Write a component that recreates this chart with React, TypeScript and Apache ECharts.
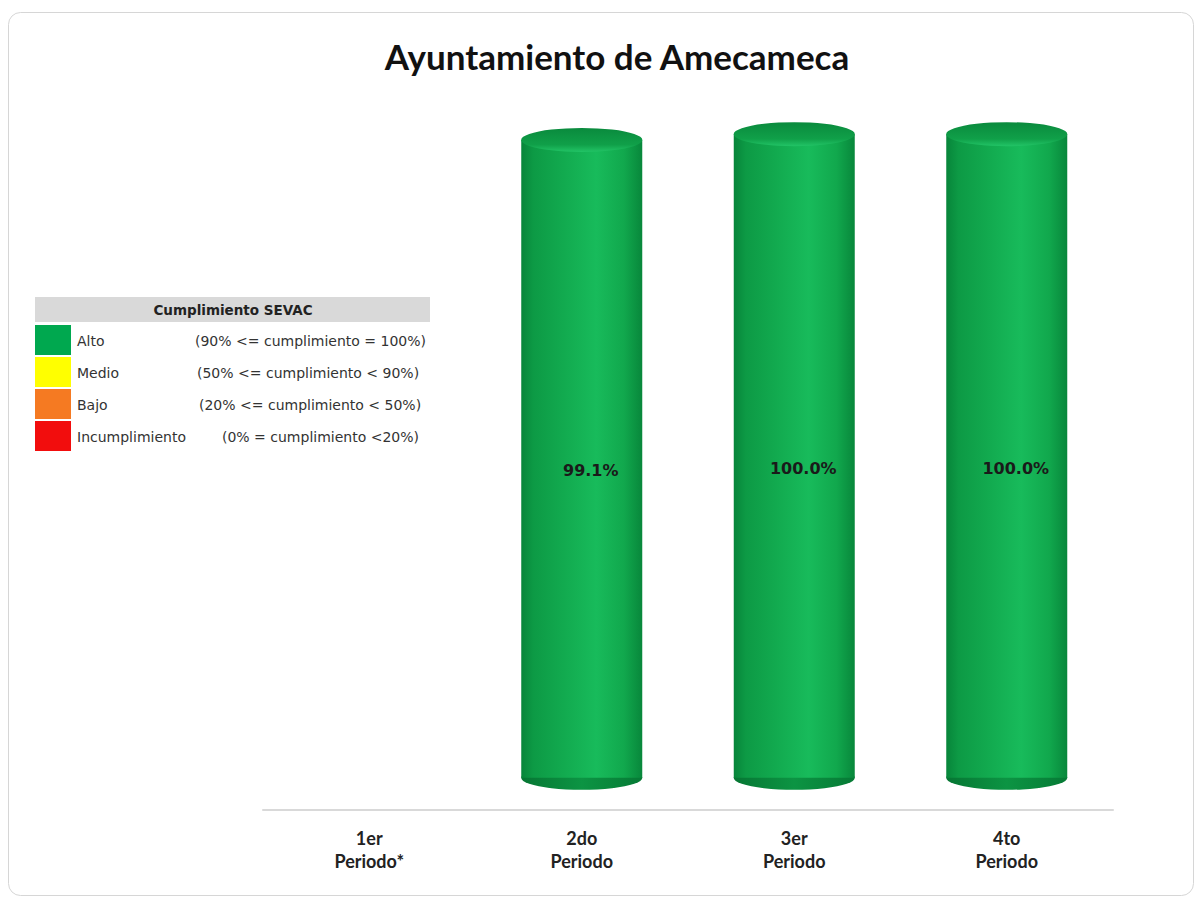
import React, { useEffect, useRef } from "react";
import * as echarts from "echarts";

const TITLE = "Ayuntamiento de Amecameca";
const categories = ["1er\nPeriodo*", "2do\nPeriodo", "3er\nPeriodo", "4to\nPeriodo"];
const values: (number | null)[] = [null, 99.1, 100.0, 100.0];

const legendTitle = "Cumplimiento SEVAC";
const legendNames = ["Alto", "Medio", "Bajo", "Incumplimiento"];
const legendRanges = [
  "(90% <= cumplimiento = 100%)",
  "(50% <= cumplimiento < 90%)",
  "(20% <= cumplimiento < 50%)",
  "(0% = cumplimiento <20%)",
];
const legendColors = ["#00a84f", "#ffff00", "#f57a22", "#f20d0d"];
const legendRangeX = [195, 197, 199, 222];

const BAR_W = 121;

export default function App() {
  const ref = useRef<HTMLDivElement>(null);
  useEffect(() => {
    if (!ref.current) return;
    const chart = echarts.init(ref.current, null, { renderer: "svg" });

    const bodyGrad = new echarts.graphic.LinearGradient(0, 0, 1, 0, [
      { offset: 0, color: "#07853a" },
      { offset: 0.1, color: "#0d9a45" },
      { offset: 0.35, color: "#12aa4f" },
      { offset: 0.62, color: "#18bb5b" },
      { offset: 0.85, color: "#11a84d" },
      { offset: 1, color: "#08873b" },
    ]);
    const capGrad = new echarts.graphic.LinearGradient(0, 0, 0, 1, [
      { offset: 0, color: "#0a8a3d" },
      { offset: 0.7, color: "#10a049" },
      { offset: 1, color: "#22c466" },
    ]);
    const baseGrad = new echarts.graphic.LinearGradient(0, 0, 1, 0, [
      { offset: 0, color: "#067633" },
      { offset: 0.5, color: "#0c9443" },
      { offset: 1, color: "#067a35" },
    ]);

    const graphics: any[] = [
      {
        type: "rect",
        z: -10,
        shape: { x: 8.5, y: 12.5, width: 1185, height: 883, r: 12 },
        style: { fill: "#ffffff", stroke: "#d6d6d6", lineWidth: 1 },
      },
      {
        type: "rect",
        shape: { x: 35, y: 297, width: 395, height: 25 },
        style: { fill: "#d9d9d9" },
      },
      {
        type: "text",
        x: 233,
        y: 310,
        style: {
          text: legendTitle,
          font: "bold 13.5px 'DejaVu Sans'",
          fill: "#222",
          align: "center",
          verticalAlign: "middle",
        },
      },
    ];
    legendNames.forEach((name, i) => {
      const y0 = 325 + i * 32;
      graphics.push({
        type: "rect",
        shape: { x: 35, y: y0, width: 36, height: 30 },
        style: { fill: legendColors[i] },
      });
      graphics.push({
        type: "text",
        x: 77,
        y: y0 + 16,
        style: {
          text: name,
          font: "14px 'DejaVu Sans'",
          fill: "#333",
          verticalAlign: "middle",
        },
      });
      graphics.push({
        type: "text",
        x: legendRangeX[i],
        y: y0 + 16,
        style: {
          text: legendRanges[i],
          font: "14px 'DejaVu Sans'",
          fill: "#333",
          verticalAlign: "middle",
        },
      });
    });

    chart.setOption({
      animation: false,
      backgroundColor: "#ffffff",
      title: {
        text: TITLE,
        left: 612,
        top: 33,
        textAlign: "center",
        textStyle: {
          fontFamily: "Lato",
          fontWeight: "bold",
          fontSize: 35,
          color: "#111",
        },
      },
      graphic: graphics,
      grid: { left: 263, right: 89, top: 102, bottom: 99 },
      xAxis: {
        type: "category",
        data: categories,
        axisLine: { show: true, onZero: false, lineStyle: { color: "#d9d9d9", width: 2 } },
        axisTick: { show: false },
        axisLabel: {
          margin: 16,
          fontFamily: "Lato",
          fontWeight: "bold",
          fontSize: 18,
          lineHeight: 23,
          color: "#222",
        },
      },
      yAxis: {
        type: "value",
        min: -5,
        max: 105,
        show: false,
        splitLine: { show: false },
      },
      series: [
        {
          type: "pictorialBar",
          name: "base",
          data: values,
          symbol: "circle",
          symbolSize: [BAR_W, 24],
          symbolOffset: [0, "50%"],
          barWidth: BAR_W,
          barGap: "-100%",
          z: 1,
          itemStyle: { color: baseGrad },
        },
        {
          type: "bar",
          name: "body",
          data: values,
          barWidth: BAR_W,
          z: 2,
          itemStyle: { color: bodyGrad },
          label: {
            show: true,
            position: "inside",
            offset: [9, 12],
            fontFamily: "DejaVu Sans",
            fontWeight: "bold",
            fontSize: 16,
            color: "#1a1a1a",
            formatter: (p: any) => (p.value == null ? "" : Number(p.value).toFixed(1) + "%"),
          },
        },
        {
          type: "pictorialBar",
          name: "cap",
          data: values,
          symbol: "circle",
          symbolSize: [BAR_W, 24],
          symbolPosition: "end",
          symbolOffset: [0, "-50%"],
          barWidth: BAR_W,
          barGap: "-100%",
          z: 3,
          itemStyle: { color: capGrad },
        },
      ],
    });
    return () => chart.dispose();
  }, []);
  return (
    <div
      ref={ref}
      style={{ position: "fixed", left: 0, top: 0, width: 1202, height: 909 }}
    />
  );
}
